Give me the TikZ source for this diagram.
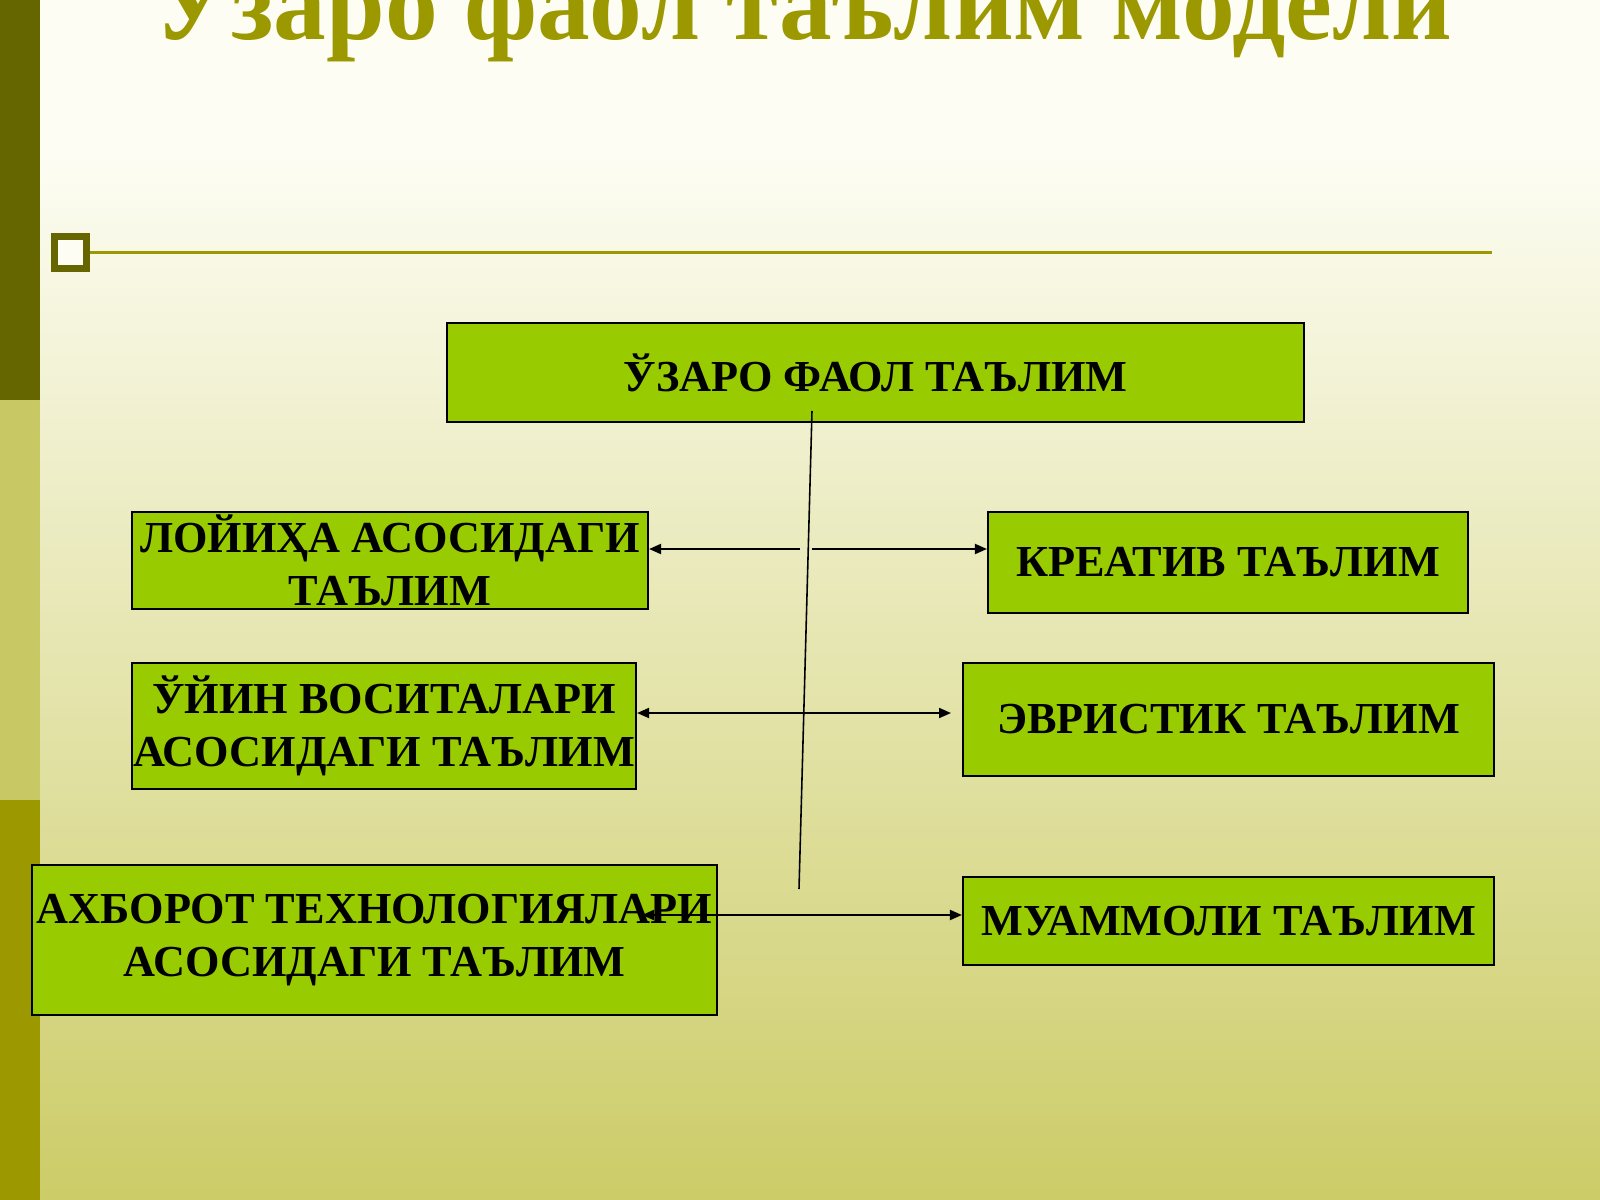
\documentclass[tikz,border=0pt]{standalone}
\usepackage{fontspec}
\setmainfont{Liberation Serif}
\usetikzlibrary{arrows.meta}

\definecolor{boxgreen}{HTML}{99CC00}
\definecolor{olivedark}{HTML}{666600}
\definecolor{olivemid}{HTML}{C8C864}
\definecolor{olivelow}{HTML}{9C9800}
\definecolor{cream}{HTML}{FDFDF4}
\definecolor{slidelow}{HTML}{CCCC68}

\begin{document}
\begin{tikzpicture}
        [x=0.1mm, y=-0.1mm,
        box/.style={rectangle, draw=black, line width=0.6pt, fill=boxgreen,
                    inner sep=0pt, align=center,
                    font=\fontsize{12.6}{15.1}\selectfont\bfseries},
        arr/.style={-{Triangle[length=1.2mm,width=1mm]}, line width=0.55pt},
        darr/.style={{Triangle[length=1.2mm,width=1mm]}-{Triangle[length=1.2mm,width=1mm]},
                     line width=0.55pt}]
        \useasboundingbox (0,0) rectangle (1600,1200);
        % slide background
        \fill[cream] (0,0) rectangle (1600,1200);
        \shade[top color=cream, bottom color=slidelow] (0,150) rectangle (1600,1200);
        \fill[olivedark] (0,0) rectangle (40,400);
        \fill[olivemid] (0,400) rectangle (40,800);
        \fill[olivelow] (0,800) rectangle (40,1200);
        \node[anchor=base, text=olivelow, inner sep=0pt,
              font=\fontsize{30}{32}\selectfont\bfseries] (title) at (803,40)
              {Ўзаро фаол таълим модели};
        \draw[olivelow, line width=0.3mm] (88,253) -- (1492,253);
        \draw[olivedark, line width=0.7mm, fill=cream] (54,237) rectangle (86,269);
        % boxes
        \node[box, minimum width=85.7mm, minimum height=9.9mm] (top) at (875.5,372.5)
              {ЎЗАРО ФАОЛ ТАЪЛИМ};
        \node[box, minimum width=51.6mm, minimum height=9.7mm] (proj) at (390,560.5)
              {ЛОЙИҲА АСОСИДАГИ\\ТАЪЛИМ};
        \node[box, minimum width=50.4mm, minimum height=12.6mm] (game) at (384,726)
              {ЎЙИН ВОСИТАЛАРИ\\АСОСИДАГИ ТАЪЛИМ};
        \node[box, minimum width=68.5mm, minimum height=15mm] (info) at (374.5,940)
              {АХБОРОТ ТЕХНОЛОГИЯЛАРИ\\АСОСИДАГИ ТАЪЛИМ};
        \node[box, minimum width=48mm, minimum height=10.1mm] (creat) at (1228,562.5)
              {КРЕАТИВ ТАЪЛИМ};
        \node[box, minimum width=53.1mm, minimum height=11.3mm] (heur) at (1228.5,719.5)
              {ЭВРИСТИК ТАЪЛИМ};
        \node[box, minimum width=53.1mm, minimum height=8.8mm] (prob) at (1228.5,921)
              {МУАММОЛИ ТАЪЛИМ};
        % connectors
        \coordinate (spineTop) at (812,411);
        \coordinate (spineBot) at (799,889);
        \draw[line width=0.45pt] (spineTop) -- (spineBot);
        \coordinate (r1a) at (800,549);
        \coordinate (r1b) at (812,549);
        \draw[arr] (r1a) -- (r1a -| proj.east);
        \draw[arr] (r1b) -- (r1b -| creat.west);
        \coordinate (r2) at (951,713);
        \draw[darr] (game.east |- r2) -- (r2);
        \coordinate (r3) at (642,915);
        \draw[darr] (r3) -- (r3 -| prob.west);
\end{tikzpicture}
\end{document}
